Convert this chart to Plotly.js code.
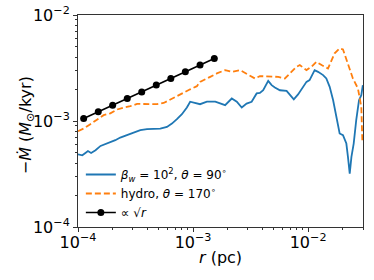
<!DOCTYPE html>
<html><head><meta charset="utf-8">
<script src="https://cdn.plot.ly/plotly-3.0.1.min.js"></script>
<style>body{margin:0;background:#fff}#plot{width:374px;height:280px}</style>
</head><body><div id="plot"></div>
<script>
// Blue: beta_w = 1e2, theta = 90 deg
const blueR = [1.0e-4,1.09e-4,1.16e-4,1.22e-4,1.30e-4,1.42e-4,1.57e-4,1.73e-4,1.91e-4,2.11e-4,2.33e-4,2.67e-4,3.05e-4,3.48e-4,3.98e-4,4.54e-4,5.19e-4,5.93e-4,6.55e-4,7.24e-4,8.00e-4,8.84e-4,9.44e-4,
 1.15e-3,1.32e-3,1.56e-3,1.72e-3,1.90e-3,2.17e-3,2.40e-3,2.65e-3,2.92e-3,3.23e-3,3.57e-3,3.81e-3,4.07e-3,4.50e-3,4.82e-3,5.14e-3,5.69e-3,6.50e-3,6.93e-3,7.51e-3,8.18e-3,9.05e-3,9.68e-3,
 1.03e-2,1.14e-2,1.22e-2,1.35e-2,1.44e-2,1.54e-2,1.65e-2,1.76e-2,1.88e-2,2.01e-2,2.15e-2,2.22e-2,2.30e-2,2.38e-2,2.49e-2,2.62e-2,2.77e-2,2.90e-2,2.99e-2];
const blueM = [4.85e-4,4.75e-4,5.0e-4,5.21e-4,5.0e-4,5.30e-4,5.82e-4,6.04e-4,6.34e-4,6.59e-4,6.98e-4,7.34e-4,7.72e-4,8.19e-4,8.37e-4,8.42e-4,8.49e-4,8.79e-4,9.46e-4,1.04e-3,1.16e-3,1.34e-3,1.52e-3,
 1.44e-3,1.52e-3,1.52e-3,1.46e-3,1.41e-3,1.63e-3,1.52e-3,1.34e-3,1.46e-3,1.52e-3,1.82e-3,1.84e-3,1.95e-3,2.39e-3,2.18e-3,2.07e-3,1.95e-3,1.92e-3,1.75e-3,1.60e-3,1.78e-3,2.10e-3,2.34e-3,
 2.43e-3,3.02e-3,2.91e-3,2.71e-3,2.52e-3,2.10e-3,1.57e-3,1.14e-3,7.62e-4,7.34e-4,6.13e-4,4.58e-4,3.19e-4,4.58e-4,6.13e-4,1.02e-3,1.57e-3,1.75e-3,2.18e-3];

// Orange dashed: hydro, theta = 170 deg
const orangeR = [1.0e-4,1.12e-4,1.28e-4,1.47e-4,1.67e-4,1.91e-4,2.19e-4,2.50e-4,2.85e-4,3.26e-4,3.98e-4,4.86e-4,5.55e-4,6.34e-4,7.24e-4,8.26e-4,9.44e-4,1.08e-3,
 1.15e-3,1.41e-3,1.61e-3,1.90e-3,2.17e-3,2.56e-3,3.02e-3,3.45e-3,3.81e-3,4.65e-3,5.50e-3,6.28e-3,6.93e-3,7.93e-3,8.47e-3,9.68e-3,
 1.07e-2,1.18e-2,1.31e-2,1.49e-2,1.70e-2,1.88e-2,2.01e-2,2.22e-2,2.45e-2,2.71e-2,2.90e-2,2.96e-2];
const orangeM = [8.02e-4,8.49e-4,9.33e-4,1.03e-3,1.135e-3,1.18e-3,1.285e-3,1.34e-3,1.38e-3,1.45e-3,1.44e-3,1.44e-3,1.48e-3,1.60e-3,1.71e-3,1.84e-3,1.99e-3,2.13e-3,
 2.34e-3,2.61e-3,2.81e-3,3.02e-3,2.91e-3,3.02e-3,2.71e-3,2.52e-3,2.65e-3,2.65e-3,2.61e-3,2.52e-3,2.81e-3,3.25e-3,3.37e-3,3.02e-3,
 3.25e-3,3.62e-3,3.37e-3,3.13e-3,4.35e-3,4.85e-3,4.74e-3,3.49e-3,2.52e-3,2.03e-3,1.36e-3,6.59e-4];

// Black: proportional to sqrt(r)
const sqrtR = [1.12e-4,1.50e-4,2.00e-4,2.68e-4,3.58e-4,4.79e-4,6.41e-4,8.57e-4,1.15e-3,1.53e-3];
const sqrtM = [1.055e-3,1.22e-3,1.41e-3,1.63e-3,1.88e-3,2.18e-3,2.52e-3,2.91e-3,3.37e-3,3.89e-3];

const names = ['<i>β</i><sub><i>w</i></sub> = 10<sup>2</sup>, <i>θ</i> = 90<sup>∘</sup>', 'hydro, <i>θ</i> = 170<sup>∘</sup>', '∝ √<i>r</i>'];
const xTickVals = [1e-4,1e-3,1e-2];
const xTickText = ['10<sup>−4</sup>','10<sup>−3</sup>','10<sup>−2</sup>'];
const yTickVals = [1e-4,1e-3,1e-2];
const yTickText = ['10<sup>−4</sup>','10<sup>−3</sup>','10<sup>−2</sup>'];
const xTitle = '<i>r</i> (pc)';
const yTitle = '−<i>Ṁ</i> (<i>M</i><sub>⊙</sub>/kyr)';

function minorVals(lo, hi){ const v=[]; for(let e=lo;e<hi;e++){ for(let k=2;k<=9;k++) v.push(k*Math.pow(10,e)); } return v; }

const traces = [
 {x: blueR, y: blueM, name: names[0], mode:'lines', line:{color:'#1f77b4', width:1.8}},
 {x: orangeR, y: orangeM, name: names[1], mode:'lines', line:{color:'#ff7f0e', width:1.8, dash:'6px,3px'}},
 {x: sqrtR, y: sqrtM, name: names[2], mode:'lines+markers', line:{color:'#000', width:1.6}, marker:{color:'#000', size:7}}
];

const axisCommon = {type:'log', showgrid:false, zeroline:false, showline:true, mirror:true, linecolor:'#333', linewidth:1,
  ticks:'outside', ticklen:4, tickwidth:1, tickcolor:'#333', tickfont:{size:16, color:'#000'}};

const layout = {
 width:374, height:280, margin:{l:78, r:11, t:15, b:53},
 paper_bgcolor:'#fff', plot_bgcolor:'#fff',
 font:{family:'DejaVu Sans', color:'#000'},
 showlegend:true,
 legend:{x:0.01, y:0.0, xanchor:'left', yanchor:'bottom', bgcolor:'rgba(255,255,255,0)', font:{size:12, color:'#000'}, tracegroupgap:0},
 xaxis: Object.assign({}, axisCommon, {range:[-4, Math.log10(0.03)], tickmode:'array', tickvals:xTickVals, ticktext:xTickText,
   ticklabelstandoff:-3,
   minor:{ticks:'outside', ticklen:2, tickcolor:'#333', tickvals:minorVals(-4,-1)}}),
 yaxis: Object.assign({}, axisCommon, {range:[-4,-2], tickmode:'array', tickvals:yTickVals, ticktext:yTickText,
   minor:{ticks:'outside', ticklen:2, tickcolor:'#333', tickvals:minorVals(-4,-2)}}),
 annotations:[
   {text:xTitle, xref:'paper', yref:'paper', x:0.5, y:-30/212, xanchor:'center', yanchor:'middle', showarrow:false, font:{size:16, color:'#000'}},
   {text:yTitle, xref:'paper', yref:'paper', x:-52/285, y:0.48, xanchor:'center', yanchor:'middle', textangle:-90, showarrow:false, font:{size:16, color:'#000'}}
 ]
};

Plotly.newPlot('plot', traces, layout, {displayModeBar:false, staticPlot:true});
</script></body></html>
